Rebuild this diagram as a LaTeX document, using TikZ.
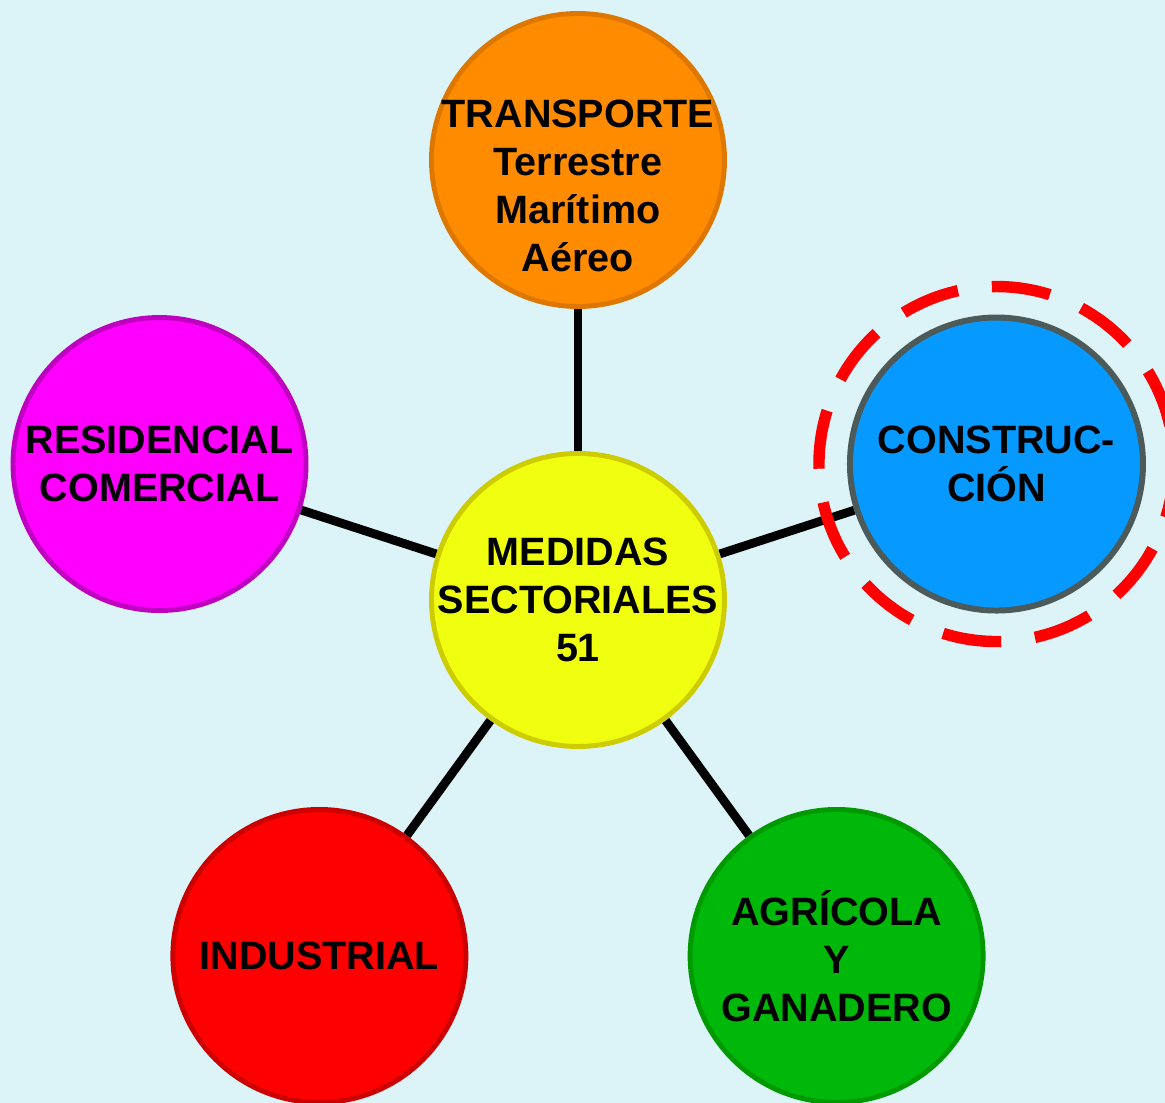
\documentclass[tikz,border=0pt]{standalone}
\usepackage{fontspec}
\setmainfont{Liberation Sans}
\usetikzlibrary{backgrounds}
\definecolor{fondo}{HTML}{DCF4F8}
\definecolor{amarillo}{HTML}{F0FF0F}
\definecolor{amarilloborde}{HTML}{CCCC00}
\definecolor{naranja}{HTML}{FF8C00}
\definecolor{naranjaborde}{HTML}{DD7700}
\definecolor{magenta}{HTML}{FF00FF}
\definecolor{magentaborde}{HTML}{C000C0}
\definecolor{azul}{HTML}{0699FF}
\definecolor{azulborde}{HTML}{4D5A5A}
\definecolor{rojo}{HTML}{FF0000}
\definecolor{rojoborde}{HTML}{CC0000}
\definecolor{verde}{HTML}{00B80A}
\definecolor{verdeborde}{HTML}{009A00}

\begin{document}
\begin{tikzpicture}[sector/.style={circle,draw,line width=2.8pt,minimum size=5.86cm,inner sep=0pt,align=center,
                            font=\fontsize{22.5}{27.3}\selectfont\bfseries},
                    texto/.style={align=center,font=\fontsize{22.5}{27.3}\selectfont\bfseries},
                    union/.style={draw,line width=5pt,black}]

        \useasboundingbox (-11.56,-10.06) rectangle (11.74,12.0);

        \node[sector, fill=amarillo, draw=amarilloborde,
              label={[texto]center:MEDIDAS\\SECTORIALES\\51}] (medidas) at (0,0) {};
        \node[sector, fill=naranja, draw=naranjaborde,
              label={[texto, yshift=-0.52cm]center:TRANSPORTE\\Terrestre\\Marítimo\\Aéreo}]
              (transporte) at (90:8.8) {};
        \node[sector, fill=magenta, draw=magentaborde] (residencial) at (162:8.8) {RESIDENCIAL\\COMERCIAL};
        \node[sector, fill=azul, draw=azulborde, line width=3.4pt] (construccion) at (18:8.8) {CONSTRUC-\\CIÓN};
        \node[sector, fill=rojo, draw=rojoborde] (industrial) at (234:8.8) {INDUSTRIAL};
        \node[sector, fill=verde, draw=verdeborde] (agricola) at (306:8.8) {AGRÍCOLA\\Y\\GANADERO};

        % fondo y uniones
        \begin{pgfonlayer}{background}
            \fill[fondo] (-11.56,-10.06) rectangle (11.74,12.0);
            \path[every edge/.style=union]
                (medidas) edge (transporte)
                (medidas) edge (residencial)
                (medidas) edge (construccion)
                (medidas) edge (industrial)
                (medidas) edge (agricola);
        \end{pgfonlayer}

        % resaltado
        \draw[red, line width=6.5pt, dash pattern=on 1.177cm off 0.682cm, dash phase=1.084cm]
            (construccion.center) circle[radius=3.55cm];
\end{tikzpicture}
\end{document}
